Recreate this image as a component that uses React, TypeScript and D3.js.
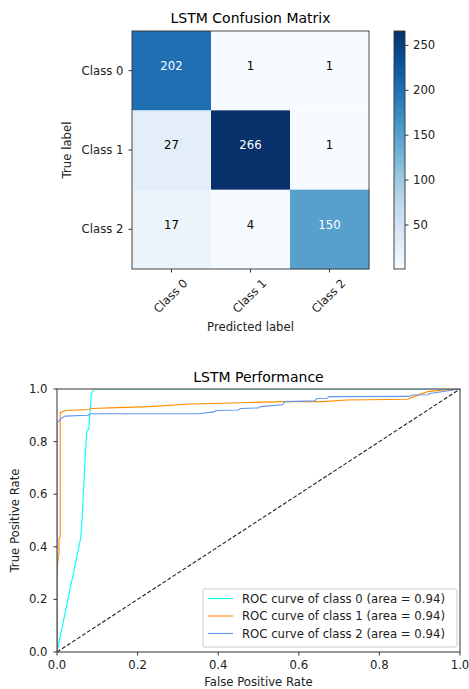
import React from "react";
import * as d3 from "d3";

// confusion matrix data
const classes = ["Class 0", "Class 1", "Class 2"];
const matrix = [
  [202, 1, 1],
  [27, 266, 1],
  [17, 4, 150],
];
const colorbarTicks = [50, 100, 150, 200, 250];
const bluesStops = ["#f7fbff", "#deebf7", "#c6dbef", "#9ecae1", "#6baed6", "#4292c6", "#2171b5", "#08519c", "#08306b"];

// ROC data
const fpr0 = [0, 0.059, 0.062, 0.072, 0.074, 0.079, 0.085, 0.092, 1];
const tpr0 = [0, 0.435, 0.5, 0.8, 0.84, 0.847, 0.98, 1.0, 1];
const fpr1 = [0, 0, 0.003, 0.005, 0.005, 0.008, 0.008, 0.012, 0.023, 0.05, 0.08, 0.085, 0.15, 0.23, 0.33, 0.46, 0.56, 0.66, 0.72, 0.87, 0.885, 0.92, 0.96, 1];
const tpr1 = [0, 0.3, 0.36, 0.37, 0.43, 0.44, 0.91, 0.913, 0.918, 0.92, 0.922, 0.926, 0.929, 0.933, 0.943, 0.948, 0.952, 0.952, 0.958, 0.961, 0.971, 0.99, 0.996, 1];
const fpr2 = [0, 0, 0.005, 0.012, 0.02, 0.077, 0.085, 0.35, 0.39, 0.395, 0.45, 0.455, 0.5, 0.505, 0.56, 0.565, 0.64, 0.645, 0.67, 0.676, 0.875, 0.88, 0.92, 0.925, 1];
const tpr2 = [0, 0.872, 0.88, 0.89, 0.897, 0.9, 0.906, 0.906, 0.913, 0.918, 0.92, 0.926, 0.928, 0.933, 0.94, 0.952, 0.955, 0.964, 0.965, 0.971, 0.972, 0.977, 0.978, 0.983, 1];
const rocColors = ["#00ffff", "#ff8c00", "#6495ed"];
const aucs = [0.94, 0.94, 0.94];
const rocTicks = [0, 0.2, 0.4, 0.6, 0.8, 1.0];

const font = "DejaVu Sans, sans-serif";
const spine = "#333";
const fs = 11.7;   // tick / label size
const tfs = 14;    // title size

export default function App() {
  const W = 469, H = 689;

  // confusion matrix layout
  const cm = { left: 132, right: 369, top: 31, bottom: 269 };
  const xBand = d3.scaleBand<number>().domain([0, 1, 2]).range([cm.left, cm.right]);
  const yBand = d3.scaleBand<number>().domain([0, 1, 2]).range([cm.top, cm.bottom]);
  const vals = matrix.flat();
  const vmin = d3.min(vals)!, vmax = d3.max(vals)!;
  const blues = d3.scaleLinear<string>()
    .domain(bluesStops.map((_, i) => vmin + (i / (bluesStops.length - 1)) * (vmax - vmin)))
    .range(bluesStops)
    .interpolate(d3.interpolateRgb);
  const thresh = vmax / 2;

  const cb = { left: 394, right: 405, top: 31, bottom: 269 };
  const cbScale = d3.scaleLinear().domain([vmin, vmax]).range([cb.bottom, cb.top]);

  // ROC layout
  const rc = { left: 57, right: 460, top: 389, bottom: 652 };
  const xs = d3.scaleLinear().domain([0, 1]).range([rc.left, rc.right]);
  const ys = d3.scaleLinear().domain([0, 1]).range([rc.bottom, rc.top]);
  const line = d3.line<[number, number]>().x(d => xs(d[0])).y(d => ys(d[1]));
  const curves = [
    fpr0.map((f, i) => [f, tpr0[i]] as [number, number]),
    fpr1.map((f, i) => [f, tpr1[i]] as [number, number]),
    fpr2.map((f, i) => [f, tpr2[i]] as [number, number]),
  ];

  const legend = { x: 203, y: 589, w: 254, h: 58 };

  return (
    <svg width={W} height={H} style={{ position: "absolute", left: 0, top: 0, background: "#fff" }} fontFamily={font}>
      <defs>
        <linearGradient id="cbGrad" x1="0" y1="1" x2="0" y2="0">
          {bluesStops.map((c, i) => (
            <stop key={i} offset={i / (bluesStops.length - 1)} stopColor={c} />
          ))}
        </linearGradient>
        <clipPath id="rocClip">
          <rect x={rc.left} y={rc.top + 0.2} width={rc.right - rc.left} height={rc.bottom - rc.top - 0.2} />
        </clipPath>
      </defs>

      {/* Confusion matrix */}
      <text x={(cm.left + cm.right) / 2} y={18} textAnchor="middle" dominantBaseline="central" fontSize={tfs}>LSTM Confusion Matrix</text>
      {matrix.map((row, i) =>
        row.map((v, j) => (
          <g key={`${i}-${j}`}>
            <rect x={xBand(j)!} y={yBand(i)!} width={xBand.bandwidth() + 0.3} height={yBand.bandwidth() + 0.3} fill={blues(v)} />
            <text x={xBand(j)! + xBand.bandwidth() / 2} y={yBand(i)! + yBand.bandwidth() / 2 - 4.8} textAnchor="middle" dominantBaseline="central" fontSize={fs} fill={v > thresh ? "#fff" : "#000"}>{v}</text>
          </g>
        ))
      )}
      <rect x={cm.left} y={cm.top} width={cm.right - cm.left} height={cm.bottom - cm.top} fill="none" stroke={spine} strokeWidth={0.9} />
      {classes.map((c, i) => (
        <g key={c}>
          <line x1={cm.left - 3.5} x2={cm.left} y1={yBand(i)! + yBand.bandwidth() / 2} y2={yBand(i)! + yBand.bandwidth() / 2} stroke={spine} />
          <text x={cm.left - 8.5} y={yBand(i)! + yBand.bandwidth() / 2} textAnchor="end" dominantBaseline="central" fontSize={fs} fill="#222">{c}</text>
          <line x1={xBand(i)! + xBand.bandwidth() / 2} x2={xBand(i)! + xBand.bandwidth() / 2} y1={cm.bottom} y2={cm.bottom + 3.5} stroke={spine} />
          <text transform={`translate(${xBand(i)! + xBand.bandwidth() / 2 - 1},${296}) rotate(-45)`} textAnchor="middle" dominantBaseline="central" fontSize={fs} fill="#222">{c}</text>
        </g>
      ))}
      <text x={(cm.left + cm.right) / 2} y={327} textAnchor="middle" dominantBaseline="central" fontSize={fs} fill="#222">Predicted label</text>
      <text transform={`translate(67,${(cm.top + cm.bottom) / 2}) rotate(-90)`} textAnchor="middle" dominantBaseline="central" fontSize={fs} fill="#222">True label</text>

      {/* Colorbar */}
      <rect x={cb.left} y={cb.top} width={cb.right - cb.left} height={cb.bottom - cb.top} fill="url(#cbGrad)" stroke={spine} strokeWidth={0.9} />
      {colorbarTicks.map(t => (
        <g key={t}>
          <line x1={cb.right} x2={cb.right + 3.5} y1={cbScale(t)} y2={cbScale(t)} stroke={spine} />
          <text x={cb.right + 8} y={cbScale(t)} dominantBaseline="central" fontSize={fs} fill="#222">{t}</text>
        </g>
      ))}

      {/* ROC */}
      <text x={(rc.left + rc.right) / 2} y={377} textAnchor="middle" dominantBaseline="central" fontSize={tfs}>LSTM Performance</text>
      <g clipPath="url(#rocClip)">
        <line x1={xs(0)} y1={ys(0)} x2={xs(1)} y2={ys(1)} stroke="#222" strokeWidth={1.1} strokeDasharray="4,2" />
        {curves.map((c, i) => (
          <path key={i} d={line(c)!} fill="none" stroke={rocColors[i]} strokeWidth={1.1} />
        ))}
      </g>
      <rect x={rc.left} y={rc.top} width={rc.right - rc.left} height={rc.bottom - rc.top} fill="none" stroke={spine} strokeWidth={1} />
      {rocTicks.map(t => (
        <g key={t}>
          <line x1={rc.left - 3.5} x2={rc.left} y1={ys(t)} y2={ys(t)} stroke={spine} />
          <text x={rc.left - 9.5} y={ys(t)} textAnchor="end" dominantBaseline="central" fontSize={fs} fill="#222">{t.toFixed(1)}</text>
          <line x1={xs(t)} x2={xs(t)} y1={rc.bottom} y2={rc.bottom + 3.5} stroke={spine} />
          <text x={xs(t)} y={665} textAnchor="middle" dominantBaseline="central" fontSize={fs} fill="#222">{t.toFixed(1)}</text>
        </g>
      ))}
      <text x={(rc.left + rc.right) / 2} y={682} textAnchor="middle" dominantBaseline="central" fontSize={fs} fill="#222">False Positive Rate</text>
      <text transform={`translate(15,${(rc.top + rc.bottom) / 2}) rotate(-90)`} textAnchor="middle" dominantBaseline="central" fontSize={fs} fill="#222">True Positive Rate</text>

      {/* Legend */}
      <rect x={legend.x} y={legend.y} width={legend.w} height={legend.h} rx={2} fill="#fff" fillOpacity={0.8} stroke="#ccc" strokeWidth={1} />
      {aucs.map((a, i) => {
        const ly = legend.y + 9.5 + i * 17.5;
        return (
          <g key={i}>
            <line x1={legend.x + 5} x2={legend.x + 30} y1={ly} y2={ly} stroke={rocColors[i]} strokeWidth={1.1} />
            <text x={legend.x + 39} y={ly} dominantBaseline="central" fontSize={fs} fill="#222">{`ROC curve of class ${i} (area = ${a.toFixed(2)})`}</text>
          </g>
        );
      })}
    </svg>
  );
}
